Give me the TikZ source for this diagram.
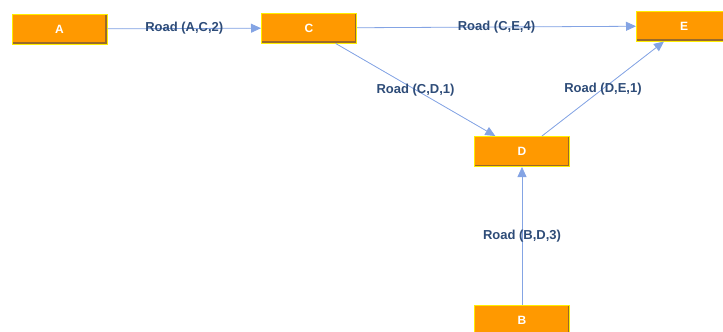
\documentclass[tikz,border=0pt]{standalone}
\usepackage{fontspec}
\setmainfont{Liberation Sans}
\usepackage{tikz}
\usetikzlibrary{arrows.meta}
\definecolor{cityfill}{HTML}{FF9900}
\definecolor{cityrim}{HTML}{FFEE00}
\definecolor{cityshade}{HTML}{9A6A2A}
\definecolor{roadline}{HTML}{84A4E4}
\definecolor{roadtext}{HTML}{2E4C78}
\tikzset{
  city/.style={rectangle,fill=cityfill,draw=cityrim,line width=1pt,
               minimum width=95pt,minimum height=30pt,inner sep=0pt,
               text=white,font=\fontsize{12}{14}\selectfont\bfseries,
               path picture={\draw[cityshade,line width=4pt]
                 (path picture bounding box.north east) --
                 (path picture bounding box.south east) --
                 (path picture bounding box.south west);}},
  road/.style={-{Triangle[length=10pt,width=9pt]},draw=roadline,fill=roadline,line width=0.8pt},
  roadlabel/.style={midway,text=roadtext,font=\fontsize{13}{15}\selectfont\bfseries,inner sep=0pt}
}

\begin{document}
\begin{tikzpicture}[x=1pt,y=-1pt]
  \useasboundingbox (0,0) rectangle (723,332);

  % cities
  \node[city] (a) at (59.5,29) {A};
  \node[city] (c) at (309,28) {C};
  \node[city] (e) at (684,26) {E};
  \node[city] (d) at (522,151.5) {D};
  \node[city] (b) at (522,320) {B};

  % roads between them
  \draw[road] (a) -- (c) node[roadlabel] {Road (A,C,2)};
  \draw[road] (c) -- (e) node[roadlabel] {Road (C,E,4)};
  \draw[road] (c) -- (d) node[roadlabel] {Road (C,D,1)};
  \draw[road] (d) -- (e) node[roadlabel] {Road (D,E,1)};
  \draw[road] (b) -- (d) node[roadlabel] {Road (B,D,3)};
\end{tikzpicture}
\end{document}
